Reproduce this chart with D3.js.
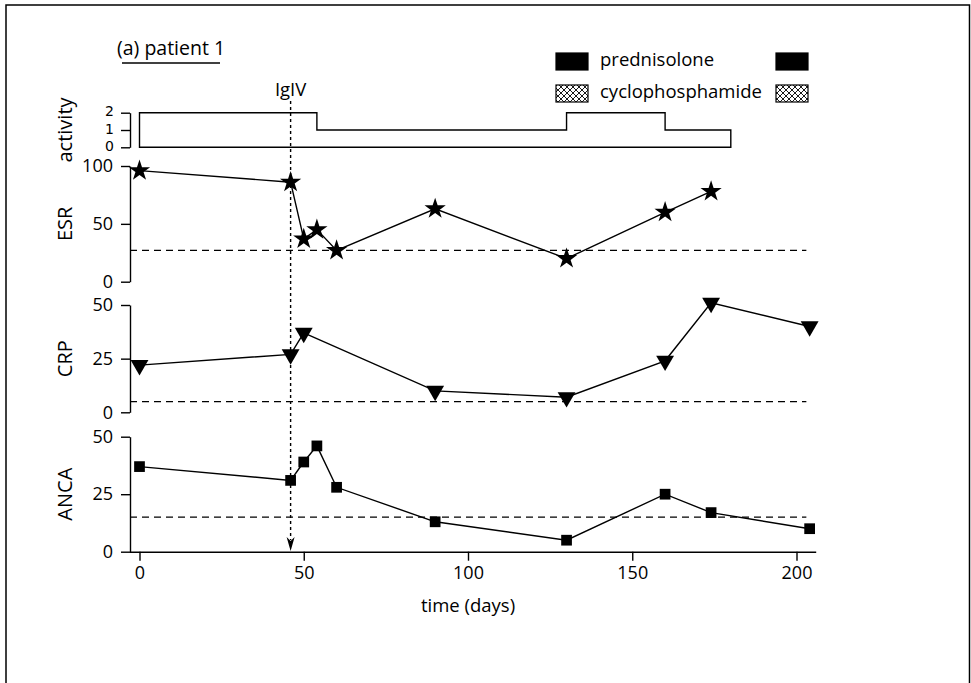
<!DOCTYPE html>
<html>
<head>
<meta charset="utf-8">
<script src="https://cdn.jsdelivr.net/npm/d3@7/dist/d3.min.js"></script>
<style>
  html, body { margin: 0; padding: 0; background: #fff; }
  svg { display: block; }
  text { font-family: "Open Sans", Lato, sans-serif; fill: #000; }
</style>
</head>
<body>
<svg id="chart" width="971" height="683"></svg>
<script>
// ---- data ----
const xTicks = [0, 50, 100, 150, 200];

const activityDays = [0, 54, 130, 160, 180];   // change points
const activityLevels = [2, 1, 2, 1];           // level held after each change
const activityTicks = [0, 1, 2];

const esrDays = [0, 46, 50, 54, 60, 90, 130, 160, 174];
const esrValues = [96, 86, 37, 45, 27, 63, 20, 60, 78];
const esrTicks = [0, 50, 100];
const esrThreshold = 27;

const crpDays = [0, 46, 50, 90, 130, 160, 174, 204];
const crpValues = [22, 27, 37, 10, 7, 24, 51, 40];
const crpTicks = [0, 25, 50];
const crpThreshold = 5;

const ancaDays = [0, 46, 50, 54, 60, 90, 130, 160, 174, 204];
const ancaValues = [37, 31, 39, 46, 28, 13, 5, 25, 17, 10];
const ancaTicks = [0, 25, 50];
const ancaThreshold = 15;

const igivDay = 46;
const thresholdEnd = 203;
const legendItems = ["prednisolone", "cyclophosphamide"];

// ---- layout ----
const svg = d3.select("#chart");
const axisX = 130;
const x = d3.scaleLinear().domain([0, 200]).range([139.5, 796.5]);

// frame (open at the bottom)
svg.append("path")
  .attr("d", "M6,690 L6,5 L969.5,5 L969.5,690")
  .attr("fill", "none").attr("stroke", "#000").attr("stroke-width", 1.5);

// hatch pattern for the legend
const defs = svg.append("defs");
const pat = defs.append("pattern").attr("id", "xhatch")
  .attr("patternUnits", "userSpaceOnUse").attr("width", 6).attr("height", 6);
pat.append("path").attr("d", "M0,0 L6,6 M6,0 L0,6")
  .attr("stroke", "#000").attr("stroke-width", 0.9);

const panels = [
  { label: "activity", domain: [0, 2], range: [147.3, 112.7], ticks: activityTicks, small: true },
  { label: "ESR", domain: [0, 100], range: [281.7, 166], ticks: esrTicks,
    days: esrDays, values: esrValues, threshold: esrThreshold, symbol: "star" },
  { label: "CRP", domain: [0, 50], range: [412.3, 305], ticks: crpTicks,
    days: crpDays, values: crpValues, threshold: crpThreshold, symbol: "tri" },
  { label: "ANCA", domain: [0, 50], range: [551.7, 436.7], ticks: ancaTicks,
    days: ancaDays, values: ancaValues, threshold: ancaThreshold, symbol: "square" }
];

const symbolPath = {
  star: d3.symbol(d3.symbolStar, 140)(),
  tri: d3.symbol(d3.symbolTriangle, 138)(),
  square: d3.symbol(d3.symbolSquare, 115)()
};

panels.forEach(p => {
  const y = d3.scaleLinear().domain(p.domain).range(p.range);
  p.y = y;
  const g = svg.append("g").attr("transform", `translate(${axisX},0)`);
  const axis = d3.axisLeft(y).tickValues(p.ticks).tickSize(9).tickPadding(p.small ? 7 : 8)
    .tickSizeOuter(0).tickFormat(d3.format("d"));
  g.call(axis);
  g.select(".domain").attr("stroke-width", 1.4);
  g.selectAll(".tick line").attr("stroke-width", 1.4);
  const labels = g.selectAll(".tick text")
    .style("font-family", p.small ? "'DejaVu Sans', sans-serif" : "'Open Sans', sans-serif")
    .style("font-size", p.small ? "14px" : "18px").attr("fill", "#000");
  if (p.small) labels.attr("dy", "0.22em");

  const cy = (p.range[0] + p.range[1]) / 2;
  svg.append("text")
    .attr("transform", `translate(64,${cy}) rotate(-90)`)
    .attr("text-anchor", "middle").attr("dominant-baseline", "central")
    .style("font-size", "20px").text(p.label);

  if (p.threshold !== undefined) {
    svg.append("line")
      .attr("x1", axisX).attr("x2", x(thresholdEnd))
      .attr("y1", y(p.threshold)).attr("y2", y(p.threshold))
      .attr("stroke", "#000").attr("stroke-width", 1.3)
      .attr("stroke-dasharray", "7,5");
  }

  if (p.days) {
    const pts = p.days.map((d, i) => [d, p.values[i]]);
    svg.append("path")
      .attr("d", d3.line().x(d => x(d[0])).y(d => y(d[1]))(pts))
      .attr("fill", "none").attr("stroke", "#000").attr("stroke-width", 1.4);
    svg.selectAll(null).data(pts).enter().append("path")
      .attr("d", symbolPath[p.symbol])
      .attr("transform", d => `translate(${x(d[0])},${y(d[1])})` + (p.symbol === "tri" ? " rotate(180)" : ""))
      .attr("fill", "#000");
  }
});

// activity step outline
const ya = panels[0].y;
const actPts = [[activityDays[0], 0]];
activityLevels.forEach((lv, i) => {
  actPts.push([activityDays[i], lv]);
  actPts.push([activityDays[i + 1], lv]);
});
actPts.push([activityDays[activityDays.length - 1], 0]);
svg.append("path")
  .attr("d", d3.line().x(d => x(d[0])).y(d => ya(d[1]))(actPts) + "Z")
  .attr("fill", "none").attr("stroke", "#000").attr("stroke-width", 1.4);

// x axis
const gx = svg.append("g").attr("transform", "translate(0,551.7)");
gx.call(d3.axisBottom(x).tickValues(xTicks).tickSize(9).tickPadding(6).tickSizeOuter(0));
gx.select(".domain").attr("d", `M${axisX},0.5H${x(206)}`).attr("stroke-width", 1.4);
gx.selectAll(".tick line").attr("stroke-width", 1.4);
gx.selectAll(".tick text").style("font-family", "'Open Sans', sans-serif")
  .style("font-size", "18px").attr("fill", "#000");
svg.append("text").attr("x", x(100)).attr("y", 612)
  .attr("text-anchor", "middle").style("font-size", "18.5px").text("time (days)");

// IgIV marker
const xi = x(igivDay);
svg.append("line").attr("x1", xi).attr("x2", xi).attr("y1", 101).attr("y2", 540)
  .attr("stroke", "#000").attr("stroke-width", 1.4).attr("stroke-dasharray", "3,3");
svg.append("path")
  .attr("d", `M${xi - 4},537 L${xi},551 L${xi + 4},537 L${xi},541 Z`)
  .attr("fill", "#000");
svg.append("text").attr("x", xi).attr("y", 96).attr("text-anchor", "middle")
  .style("font-size", "18.5px").text("IgIV");

// title
svg.append("text").attr("x", 117).attr("y", 55).style("font-size", "19.5px").text("(a) patient 1");
svg.append("line").attr("x1", 122).attr("x2", 220).attr("y1", 63).attr("y2", 63)
  .attr("stroke", "#000").attr("stroke-width", 1.4);

// legend
legendItems.forEach((name, i) => {
  const yy = 53 + i * 32;
  const fill = i === 0 ? "#000" : "url(#xhatch)";
  [556, 776].forEach(lx => {
    svg.append("rect").attr("x", lx).attr("y", yy).attr("width", 32).attr("height", 17)
      .attr("fill", fill).attr("stroke", "#000").attr("stroke-width", 1.2);
  });
  svg.append("text").attr("x", 600).attr("y", yy + 13).style("font-size", "18.5px").text(name);
});
</script>
</body>
</html>
